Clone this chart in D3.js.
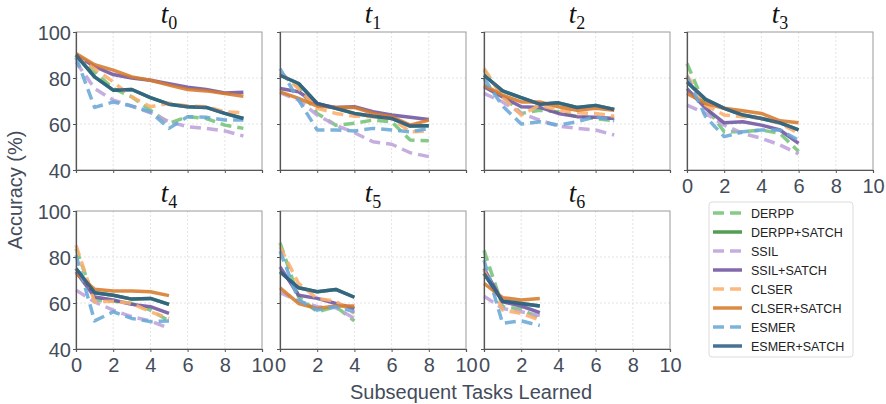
<!DOCTYPE html>
<html>
<head>
<meta charset="utf-8">
<script src="https://d3js.org/d3.v7.min.js"></script>
<style>
  body { margin: 0; background: #fff; }
  text { font-family: "Liberation Sans", Arial, sans-serif; }
</style>
</head>
<body>
<script>
// task index shown as subscript in each panel title
var tasks = [0, 1, 2, 3, 4, 5, 6];
var methods = ["DERPP", "DERPP+SATCH", "SSIL", "SSIL+SATCH", "CLSER", "CLSER+SATCH", "ESMER", "ESMER+SATCH"];
var xTicks = [0, 2, 4, 6, 8, 10];
var yTicks = [40, 60, 80, 100];

// accuracy of task t_i after k more tasks, one inner array per panel
var derpp = [
  [90, 82.7, 75.4, 71.8, 66, 60.3, 63.2, 62.4, 59.5, 58.1],
  [82, 75.9, 64.6, 59.5, 60.3, 61.7, 61, 53, 52.7],
  [83.4, 72.5, 64.6, 66, 65.3, 63.2, 62.4, 61.4],
  [86.3, 67.5, 56.6, 56.6, 57.4, 55.9, 48],
  [83.6, 61.3, 60.8, 59.8, 56.9, 52.2],
  [86.2, 62.6, 56.2, 58.4, 52.2],
  [82.9, 58.4, 57.3, 53.3]
];
var derppSatch = [
  [90, 80.5, 74.7, 75, 71.5, 68.6, 67.5, 67.2, 64.6, 62.4],
  [81.2, 77.6, 68.9, 66.8, 64.6, 63.4, 62.4, 59.1, 59.2],
  [81.2, 74.4, 71.5, 68.6, 69.2, 67.2, 68.1, 66.3],
  [78.3, 70.7, 66.8, 63.9, 62.4, 60.5, 57.4],
  [75, 64.5, 63.4, 61.7, 62, 59.4],
  [73.6, 66.6, 64.9, 65.9, 62.5],
  [72.8, 60.8, 59.8, 58.7]
];
var ssil = [
  [87, 75.4, 70.4, 67.8, 64.9, 61, 58.8, 58.1, 57, 54.8],
  [73.6, 70.4, 63.9, 59.5, 56.2, 52.3, 51.2, 47.5, 45.8],
  [73.3, 69.6, 64.6, 61.7, 59.1, 58.1, 57.4, 55.2],
  [68.2, 64.6, 59.5, 55.9, 53.8, 50.9, 47],
  [65.6, 60.5, 56.9, 54, 52.2, 49],
  [64.5, 60.8, 58.4, 57.9, 53.3],
  [63, 57.6, 56.2, 54.5]
];
var ssilSatch = [
  [90, 85, 81.5, 80, 79, 77.5, 76, 75, 73.5, 73.8],
  [75.4, 74, 68.6, 67.2, 67.5, 65.3, 63.9, 62.9, 62],
  [76.2, 71.8, 67.5, 67.2, 64.6, 63.2, 62.9, 62.4],
  [75.4, 66.8, 60.5, 61, 59.5, 57.4, 51.6],
  [73.6, 62.6, 61.3, 59.4, 58.4, 55.5],
  [75.7, 63.4, 62, 59.8, 57.6],
  [75, 60.5, 58.7, 55.8]
];
var clser = [
  [90, 84, 78.3, 71.8, 67.5, 69, 67.8, 67.5, 65.3, 64.9],
  [82.7, 75.4, 66.8, 64.6, 63.4, 63.2, 62.4, 56.6, 57],
  [84.1, 71.8, 63.9, 68.2, 66, 64.9, 64.6, 63.4],
  [81.2, 68.2, 63.9, 63.2, 62.4, 60.3, 55.9],
  [85.1, 60.5, 60.8, 59.8, 56.2, 53.3],
  [84.4, 68.5, 62, 60.8, 55.5],
  [74.2, 56.9, 55.5, 52.6]
];
var clserSatch = [
  [90.6, 85.8, 83.4, 80.5, 79, 76.9, 75, 74.4, 73.3, 72.1],
  [74, 71.1, 67.8, 67.2, 67.2, 64.6, 63.2, 59.5, 61.7],
  [76.9, 72.5, 69.6, 69.6, 67.5, 66, 66.8, 66],
  [73.3, 68.9, 66.8, 65.8, 64.6, 61.4, 60.5],
  [73, 66, 65.2, 65.2, 64.9, 63.2],
  [66.6, 59.8, 57.6, 58.7, 58.7],
  [68.5, 62.3, 61.3, 62]
];
var esmer = [
  [89, 67.2, 69.6, 67.8, 65.3, 58.1, 63.2, 62.9, 61.7, 61.7],
  [84.1, 70.4, 57.4, 57.4, 57, 58.1, 57.4, 56.6, 58.1],
  [79.8, 67.8, 60, 61, 59.5, 61, 63.2, 61.4],
  [80.5, 63.2, 54.5, 56.6, 57.4, 57.4, 53],
  [80.8, 52.2, 56.2, 53.3, 51.9, 52.2],
  [82.6, 61.3, 56.9, 58.4, 56.2],
  [78.6, 51.2, 52.2, 50.2]
];
var esmerSatch = [
  [90, 80.5, 74.7, 75, 71.5, 68.6, 67.5, 67.2, 64.6, 62.4],
  [81.2, 77.6, 68.9, 66.8, 64.6, 63.4, 62.4, 59.1, 59.2],
  [81.2, 74.4, 71.5, 68.6, 69.2, 67.2, 68.1, 66.3],
  [78.3, 70.7, 66.8, 63.9, 62.4, 60.5, 57.4],
  [75, 64.5, 63.4, 61.7, 62, 59.4],
  [73.6, 66.6, 64.9, 65.9, 62.5],
  [72.8, 60.8, 59.8, 58.7]
];

var seriesData = [derpp, derppSatch, ssil, ssilSatch, clser, clserSatch, esmer, esmerSatch];
var colors = ["#74c476", "#3d8f3d", "#bda3db", "#6f55a0", "#fdae6b", "#d77b2c", "#6aa8d6", "#2e5f87"];
var dashed = [true, false, true, false, true, false, true, false];

var W = 886, H = 404;
var panelW = 186, panelH = 138;
var colX = [76, 280, 484, 687];
var rowY = [32, 211];
var tickColor = "#444c5a";

var svg = d3.select("body").append("svg")
  .attr("width", W)
  .attr("height", H);

var x = d3.scaleLinear().domain([0, 10]).range([0, panelW]);
var y = d3.scaleLinear().domain([40, 100]).range([panelH, 0]);

var line = d3.line()
  .x(function(d, i) { return x(i); })
  .y(function(d) { return y(d); });

tasks.forEach(function(t, p) {
  var col = p % 4, row = Math.floor(p / 4);
  var g = svg.append("g")
    .attr("transform", "translate(" + colX[col] + "," + rowY[row] + ")");

  // grid
  g.append("g").selectAll("line").data(xTicks.slice(1, -1)).join("line")
    .attr("x1", function(d) { return x(d); }).attr("x2", function(d) { return x(d); })
    .attr("y1", 0).attr("y2", panelH)
    .attr("stroke", "#dcdcdc").attr("stroke-dasharray", "2,2").attr("stroke-width", 0.8);
  g.append("g").selectAll("line").data(yTicks.slice(1, -1)).join("line")
    .attr("y1", function(d) { return y(d); }).attr("y2", function(d) { return y(d); })
    .attr("x1", 0).attr("x2", panelW)
    .attr("stroke", "#dcdcdc").attr("stroke-dasharray", "2,2").attr("stroke-width", 0.8);

  // lines
  seriesData.forEach(function(s, k) {
    g.append("path")
      .datum(s[p])
      .attr("d", line)
      .attr("fill", "none")
      .attr("stroke", colors[k])
      .attr("stroke-width", 3.5)
      .attr("stroke-opacity", 0.88)
      .attr("stroke-linejoin", "round")
      .attr("stroke-dasharray", dashed[k] ? "11,6" : null);
  });

  // frame
  g.append("rect")
    .attr("width", panelW).attr("height", panelH)
    .attr("fill", "none").attr("stroke", "#999").attr("stroke-width", 1);

  var showX = row === 1 || col === 3;
  var showY = col === 0;

  var xAxis = g.append("g")
    .attr("transform", "translate(0," + panelH + ")")
    .call(d3.axisBottom(x).tickValues(xTicks).tickSize(3).tickPadding(4)
      .tickFormat(showX ? d3.format("d") : ""));
  var yAxis = g.append("g")
    .call(d3.axisLeft(y).tickValues(yTicks).tickSize(3).tickPadding(2)
      .tickFormat(showY ? d3.format("d") : ""));

  [xAxis, yAxis].forEach(function(a) {
    a.select(".domain").attr("stroke", "#555").attr("stroke-width", 1.2);
    a.selectAll(".tick line").attr("stroke", "#555");
    a.selectAll(".tick text")
      .attr("fill", tickColor)
      .style("font-size", "20px")
      .style("font-family", "'Liberation Sans', Arial, sans-serif");
  });
  xAxis.selectAll(".tick text").attr("dy", "0.82em");
  yAxis.selectAll(".tick text").attr("dy", "0.36em");

  // title t_i
  var title = g.append("text")
    .attr("x", panelW / 2)
    .attr("y", -9)
    .attr("text-anchor", "middle")
    .style("font-family", "'Liberation Serif', 'Times New Roman', serif")
    .style("font-style", "italic")
    .style("font-size", "27px")
    .attr("fill", "#111");
  title.append("tspan").text("t");
  title.append("tspan")
    .attr("dy", 6)
    .style("font-size", "18px")
    .style("font-style", "normal")
    .text(t);
});

// axis labels
svg.append("text")
  .attr("transform", "translate(22,190) rotate(-90)")
  .attr("text-anchor", "middle")
  .attr("fill", tickColor)
  .style("font-size", "20px")
  .text("Accuracy (%)");

svg.append("text")
  .attr("x", 471)
  .attr("y", 399)
  .attr("text-anchor", "middle")
  .attr("fill", tickColor)
  .style("font-size", "20px")
  .text("Subsequent Tasks Learned");

// legend
var lg = svg.append("g").attr("transform", "translate(709,202)");
lg.append("rect")
  .attr("width", 144).attr("height", 155)
  .attr("rx", 3)
  .attr("fill", "#fff")
  .attr("stroke", "#dcdcdc");
methods.forEach(function(m, k) {
  var yy = 11 + k * 19;
  lg.append("line")
    .attr("x1", 4).attr("x2", 33)
    .attr("y1", yy).attr("y2", yy)
    .attr("stroke", colors[k])
    .attr("stroke-width", 3.5)
    .attr("stroke-opacity", 0.88)
    .attr("stroke-dasharray", dashed[k] ? "11,6" : null);
  lg.append("text")
    .attr("x", 42).attr("y", yy)
    .attr("dy", "0.36em")
    .attr("fill", "#222")
    .style("font-size", "12.5px")
    .text(m);
});
</script>
</body>
</html>
